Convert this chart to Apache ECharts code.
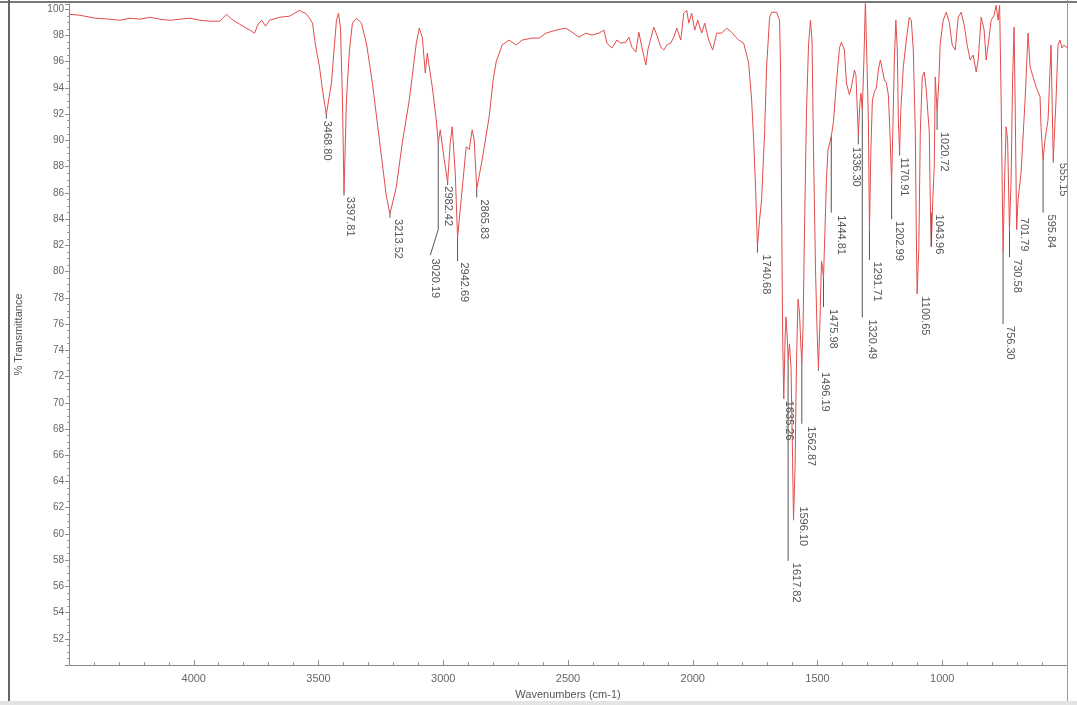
<!DOCTYPE html>
<html>
<head>
<meta charset="utf-8">
<script src="https://cdn.jsdelivr.net/npm/echarts@6/dist/echarts.min.js"></script>
<style>
  html, body { margin: 0; padding: 0; background: #ffffff; }
  #chart { width: 1077px; height: 705px; }
</style>
</head>
<body>
<div id="chart"></div>
<script>
// FT-IR spectrum: wavenumber (cm-1) against % transmittance.
const traceWn = [
  4500, 4456, 4396, 4336, 4296, 4256, 4216, 4176, 4136, 4096, 4056, 4016, 3976, 3936, 3896, 3868,
  3848, 3816, 3776, 3756, 3744, 3728, 3712, 3696, 3656, 3616, 3576, 3564, 3552, 3536, 3524, 3512,
  3496, 3484, 3456, 3448, 3436, 3428, 3420, 3412, 3404, 3388, 3376, 3364, 3348, 3328, 3308, 3284,
  3256, 3228, 3188, 3164, 3136, 3108, 3096, 3084, 3072, 3064, 3056, 3044, 3028, 3012, 3004, 2996,
  2972, 2964, 2952, 2928, 2908, 2896, 2884, 2876, 2844, 2816, 2800, 2788, 2764, 2736, 2708, 2684,
  2644, 2616, 2588, 2548, 2508, 2484, 2456, 2428, 2404, 2376, 2356, 2344, 2324, 2304, 2288, 2268,
  2256, 2244, 2228, 2216, 2204, 2188, 2180, 2168, 2156, 2144, 2128, 2116, 2104, 2088, 2076, 2064,
  2048, 2036, 2024, 2016, 2004, 1992, 1980, 1964, 1952, 1936, 1920, 1904, 1884, 1864, 1844, 1828,
  1816, 1796, 1784, 1776, 1764, 1756, 1748, 1732, 1724, 1712, 1704, 1692, 1684, 1664, 1652, 1648,
  1644, 1640, 1630, 1626, 1622, 1612, 1606, 1600, 1590, 1584, 1578, 1572, 1567, 1558, 1552, 1544,
  1536, 1528, 1522, 1516, 1508, 1502, 1490, 1484, 1480, 1470, 1464, 1458, 1452, 1436, 1424, 1412,
  1404, 1392, 1384, 1372, 1364, 1352, 1346, 1330, 1326, 1314, 1308, 1302, 1296, 1286, 1280, 1272,
  1264, 1256, 1248, 1240, 1232, 1224, 1216, 1210, 1198, 1192, 1186, 1180, 1176, 1166, 1156, 1144,
  1132, 1124, 1116, 1108, 1104, 1094, 1088, 1080, 1072, 1064, 1056, 1052, 1048, 1038, 1032, 1028,
  1014, 1008, 996, 984, 972, 960, 948, 936, 924, 912, 900, 888, 876, 864, 856, 844,
  832, 824, 816, 804, 792, 784, 776, 770, 764, 750, 744, 738, 724, 718, 712, 708,
  696, 684, 668, 656, 648, 636, 624, 608, 604, 588, 576, 564, 544, 536, 528, 520,
  512, 504, 500
];
const traceT = [
  99.62, 99.54, 99.32, 99.24, 99.16, 99.32, 99.24, 99.39, 99.24, 99.16, 99.24, 99.32, 99.16, 99.09, 99.09, 99.62,
  99.24, 98.86, 98.41, 98.18, 98.79, 99.16, 98.71, 99.16, 99.39, 99.47, 99.92, 99.77, 99.70, 99.32, 98.94, 97.27,
  95.60, 93.85, 93.47, 94.38, 97.27, 99.16, 99.70, 98.63, 93.09, 93.09, 96.89, 98.94, 99.32, 98.94, 97.42, 94.38,
  90.05, 85.73, 86.48, 89.83, 93.09, 97.42, 98.56, 97.87, 95.14, 96.66, 95.60, 94.08, 91.57, 90.81, 90.81, 88.53,
  89.83, 91.04, 87.55, 85.50, 89.52, 89.29, 90.81, 90.05, 88.53, 91.80, 94.61, 95.98, 97.27, 97.65, 97.27, 97.65,
  97.80, 97.80, 98.18, 98.41, 98.56, 98.25, 97.87, 98.18, 98.03, 98.18, 98.41, 97.42, 97.04, 97.65, 97.42, 97.49,
  97.87, 97.11, 96.74, 98.25, 97.11, 95.75, 96.89, 97.80, 98.63, 98.03, 97.11, 96.89, 97.27, 97.42, 97.87, 98.56,
  97.65, 99.70, 99.92, 98.94, 99.70, 98.41, 99.16, 98.18, 98.94, 97.65, 96.89, 98.18, 98.18, 98.56, 98.25, 97.87,
  97.65, 97.42, 96.51, 95.90, 93.09, 90.05, 86.25, 83.98, 85.50, 90.58, 95.60, 99.39, 99.77, 99.77, 99.16, 95.60,
  85.50, 75.63, 74.87, 76.54, 75.25, 74.49, 72.59, 65.76, 65.00, 73.35, 77.90, 76.77, 74.49, 75.63, 83.22, 92.33,
  97.27, 99.16, 97.65, 89.29, 80.18, 75.63, 76.39, 80.79, 80.33, 83.22, 87.02, 89.29, 89.44, 91.42, 94.46, 97.04,
  97.49, 96.89, 94.38, 93.47, 94.08, 95.37, 94.99, 92.80, 93.60, 96.13, 100.68, 96.13, 91.57, 89.29, 93.09, 93.70,
  94.00, 95.37, 96.13, 96.28, 94.61, 94.38, 93.47, 90.81, 90.81, 96.13, 99.16, 96.89, 91.57, 92.33, 95.60, 97.65,
  99.39, 99.16, 96.89, 90.58, 82.99, 81.70, 90.58, 94.84, 95.22, 93.85, 93.85, 90.58, 85.50, 85.50, 88.00, 94.84,
  94.38, 97.42, 99.16, 99.77, 99.01, 97.27, 96.89, 99.39, 99.77, 98.79, 97.27, 96.13, 96.51, 95.22, 96.13, 99.39,
  98.41, 96.13, 97.27, 99.16, 99.54, 100.30, 99.16, 100.30, 93.09, 87.02, 91.04, 90.05, 87.02, 94.61, 98.63, 93.09,
  85.50, 87.55, 93.09, 98.18, 95.60, 94.84, 94.08, 93.32, 91.00, 90.05, 91.57, 97.27, 93.09, 97.27, 97.65, 97.04,
  97.27, 97.11, 97.10
];

// Labelled absorption minima
const peakWn = [
  3468.80, 3397.81, 3213.52, 3020.19, 2982.42, 2942.69, 2865.83, 1740.68, 1635.26, 1617.82,
  1596.10, 1562.87, 1496.19, 1475.98, 1444.81, 1336.30, 1320.49, 1291.71, 1202.99, 1170.91,
  1100.65, 1043.96, 1020.72, 756.30, 730.58, 701.79, 595.84, 555.15
];
const peakT = [
  91.95, 86.00, 84.40, 89.80, 86.80, 82.60, 86.30, 81.90, 70.30, 73.35,
  61.05, 73.00, 72.60, 79.50, 90.30, 90.40, 92.30, 83.10, 86.80, 89.10,
  78.30, 81.90, 92.20, 81.50, 83.10, 83.20, 88.50, 88.50
];
// Leader and tag placement per peak: [stem end T, tag wn, tag T, elbow wn, elbow T]
const labelLayout = [
  [91.65, 3488, 91.50], [85.80, 3394, 85.70], [84.10, 3204, 84.00], [83.20, 3056, 81.00, 3052, 81.25],
  [86.60, 3004, 86.50], [80.80, 2940, 80.70], [85.65, 2860, 85.50], [81.45, 1728, 81.30],
  [70.30, 1636, 70.15], [57.95, 1610, 57.80], [61.05, 1582, 62.10], [68.40, 1548, 68.20],
  [72.45, 1492, 72.35], [77.30, 1460, 77.15], [84.50, 1428, 84.30], [89.70, 1368, 89.50],
  [76.50, 1304, 76.35], [80.90, 1284, 80.75], [84.00, 1196, 83.85], [88.85, 1176, 88.70],
  [78.30, 1092, 78.10], [84.50, 1036, 84.35], [90.80, 1016, 90.65], [76.00, 752, 75.85],
  [81.10, 724, 80.95], [83.20, 696, 84.10], [84.50, 588, 84.35], [88.30, 538, 88.30]
];

const xTicks = [1000, 1500, 2000, 2500, 3000, 3500, 4000];

// spectrum = sampled trace plus the labelled minima, ordered by wavenumber
const spectrum = traceWn.map((w, i) => [w, traceT[i]])
  .concat(peakWn.map((w, i) => [w, peakT[i]]))
  .sort((a, b) => b[0] - a[0]);

const chart = echarts.init(document.getElementById('chart'), null, { renderer: 'canvas' });
const FONT = '"Liberation Sans", Arial, sans-serif';

chart.setOption({
  animation: false,
  backgroundColor: '#ffffff',
  grid: { left: 69, right: 10, top: 4, bottom: 39, containLabel: false },
  xAxis: {
    type: 'value',
    inverse: true,
    min: 500,
    max: 4500,
    interval: 500,
    name: 'Wavenumbers (cm-1)',
    nameLocation: 'middle',
    nameGap: 23,
    nameTextStyle: { color: '#555', fontSize: 11, fontFamily: FONT },
    axisLine: { show: true, lineStyle: { color: '#8a8a8a', width: 1 } },
    axisTick: { show: true, inside: true, length: 5, lineStyle: { color: '#8a8a8a' } },
    minorTick: { show: true, splitNumber: 5, length: 3, lineStyle: { color: '#9a9a9a' } },
    splitLine: { show: false },
    axisLabel: {
      color: '#666', fontSize: 11, fontFamily: FONT, margin: 8,
      formatter: v => (xTicks.indexOf(v) >= 0 ? String(v) : '')
    }
  },
  yAxis: {
    type: 'value',
    min: 50,
    max: 100.4,
    interval: 2,
    name: '% Transmittance',
    nameLocation: 'middle',
    nameGap: 45,
    nameTextStyle: { color: '#555', fontSize: 11, fontFamily: FONT },
    axisLine: { show: true, lineStyle: { color: '#8a8a8a', width: 1 } },
    axisTick: { show: true, length: 4, lineStyle: { color: '#8a8a8a' } },
    minorTick: { show: true, splitNumber: 4, length: 2, lineStyle: { color: '#9a9a9a' } },
    splitLine: { show: false },
    axisLabel: {
      color: '#666', fontSize: 10, fontFamily: FONT, margin: 5,
      formatter: v => (v >= 52 && v <= 100 && v % 2 === 0 ? String(v) : ''),
      showMaxLabel: false
    }
  },
  graphic: [
    { type: 'rect', shape: { x: 0, y: 1, width: 1077, height: 2 }, style: { fill: '#777' }, z: 100 },
    { type: 'rect', shape: { x: 8, y: 0, width: 2, height: 705 }, style: { fill: '#666' }, z: 100 },
    { type: 'rect', shape: { x: 1067, y: 0, width: 1, height: 705 }, style: { fill: '#999' }, z: 100 },
    { type: 'rect', shape: { x: 0, y: 701, width: 1077, height: 4 }, style: { fill: '#e4e4e4' }, z: 100 }
  ],
  series: [
    {
      type: 'line',
      data: spectrum,
      showSymbol: false,
      symbol: 'none',
      clip: true,
      lineStyle: { color: '#e24c4c', width: 1 },
      z: 2,
      silent: true
    },
    {
      type: 'custom',
      data: peakWn.map((w, i) => [w, peakT[i]]),
      encode: { x: 0, y: 1 },
      clip: true,
      z: 3,
      silent: true,
      renderItem: (params, api) => {
        const i = params.dataIndex;
        const wn = peakWn[i];
        const lay = labelLayout[i];
        const pts = [api.coord([wn, peakT[i]]), api.coord([wn, lay[0]])];
        if (lay.length > 3) pts.push(api.coord([lay[3], lay[4]]));
        const tp = api.coord([lay[1], lay[2]]);
        return {
          type: 'group',
          children: [
            {
              type: 'polyline',
              shape: { points: pts },
              style: { stroke: '#555', lineWidth: 1, fill: null }
            },
            {
              type: 'text',
              x: tp[0],
              y: tp[1],
              rotation: -Math.PI / 2,
              style: {
                text: wn.toFixed(2),
                fill: '#555',
                font: '11px ' + FONT,
                align: 'left',
                verticalAlign: 'bottom'
              }
            }
          ]
        };
      }
    }
  ]
});
</script>
</body>
</html>
